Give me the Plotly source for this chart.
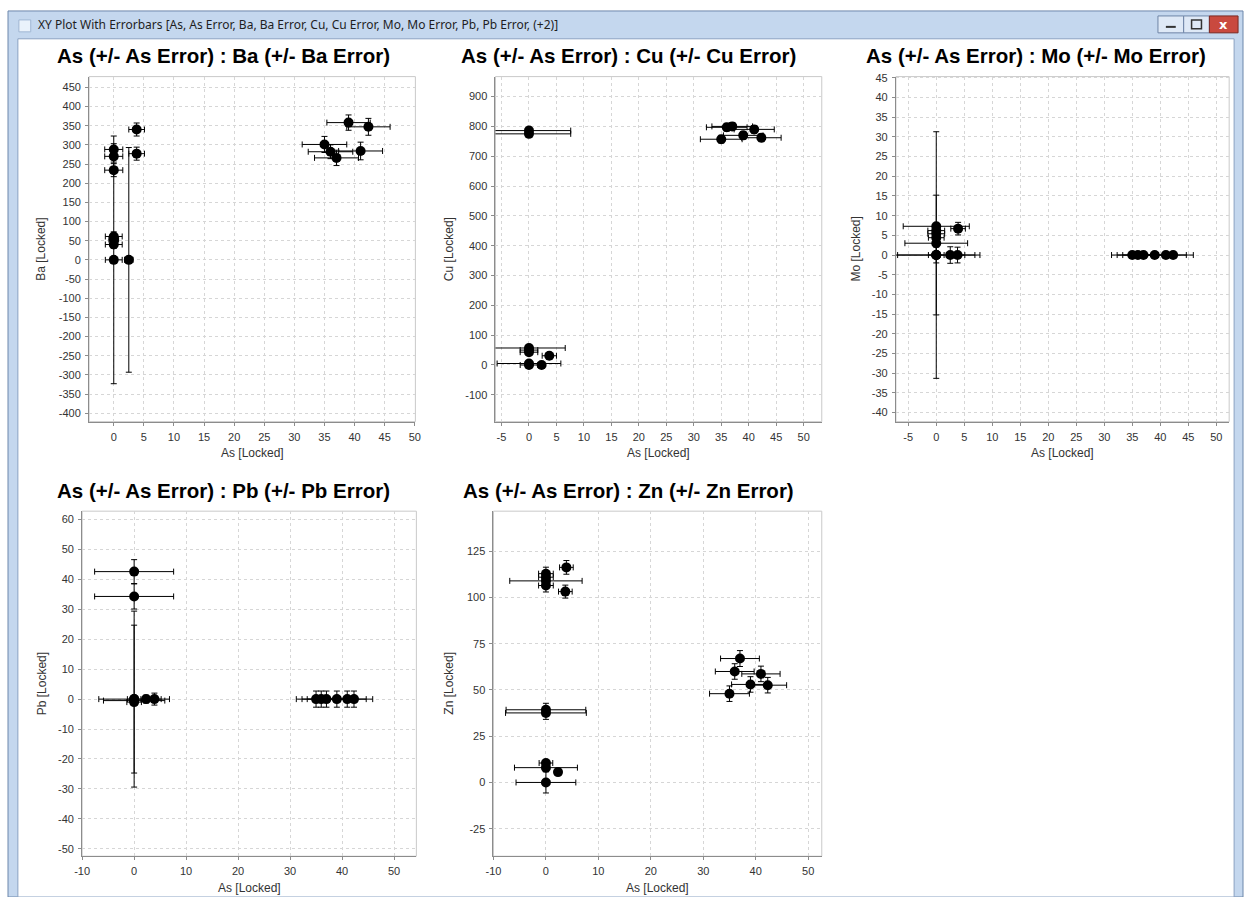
import plotly.graph_objects as go

W, H = 1249, 897

# ---------------- data ----------------
# As : Ba
as_ba = [0, 2.5, 0, 0, 0, 0, 0, 0, 3.8, 3.8, 35.0, 36.0, 37.0, 39.0, 41.0, 42.3]
as_err_ba = [1.4, 0.7, 1.5, 1.5, 1.5, 1.4, 0.8, 1.4, 1.3, 1.3, 3.7, 3.7, 3.65, 3.6, 3.65, 3.6]
ba = [0, 0, 288, 270, 234, 61, 53, 40, 340, 277, 301, 282, 266, 358, 284, 347]
ba_err = [323, 293, 15, 15, 17, 12, 10, 10, 17, 17, 21, 18, 20, 20, 23, 22]

# As : Cu
as_cu = [0, 0, 0, 0, 0, 3.7, 0, 0, 2.3, 35.0, 36.0, 37.0, 39.0, 41.0, 42.3]
as_err_cu = [7.6, 7.6, 6.6, 1.6, 1.6, 1.3, 5.8, 1.6, 0.5, 3.8, 3.7, 3.7, 3.6, 3.65, 3.6]
cu = [786, 775, 57, 50, 43, 31, 5, 0, 0, 757, 797, 800, 770, 790, 762]
cu_err = [8, 8, 6, 5, 5, 6, 5, 5, 3, 13, 13, 13, 13, 13, 13]

# As : Mo
as_mo = [0, 0, 0, 0, 0, 0, 0, 0, 3.9, 2.5, 3.8, 35.0, 36.0, 37.0, 39.0, 41.0, 42.3]
as_err_mo = [5.9, 1.5, 1.5, 1.4, 5.6, 6.9, 1.4, 7.8, 1.3, 0.7, 1.3, 3.7, 3.7, 3.7, 3.6, 3.65, 3.6]
mo = [7.3, 6.2, 5.4, 4.4, 3.0, 0, 0, 0, 6.7, 0, 0, 0, 0, 0, 0, 0, 0]
mo_err = [0.5, 0.5, 0.5, 0.5, 0.5, 31.3, 15.2, 2.0, 1.6, 2.1, 2.0, 0, 0, 0, 0, 0, 0]

# As : Pb
as_pb = [0, 0, 0, 0, 0, 0, 2.3, 3.9, 35.0, 36.0, 37.0, 39.0, 41.0, 42.3]
as_err_pb = [7.6, 7.6, 6.8, 1.3, 5.9, 1.4, 0.6, 1.3, 3.8, 3.7, 3.7, 3.6, 3.65, 3.6]
pb = [42.6, 34.3, 0, 0, -0.5, -1.0, 0, 0, 0, 0, 0, 0, 0, 0]
pb_err = [4.0, 4.2, 29.4, 24.7, 1.0, 1.0, 1.3, 2.0, 2.7, 2.7, 2.7, 2.7, 2.7, 2.7]

# As : Zn
as_zn = [0, 0, 0, 0, 3.9, 3.7, 0, 0, 0, 0, 2.3, 0, 35.0, 36.0, 37.0, 39.0, 41.0, 42.3]
as_err_zn = [1.4, 1.4, 6.9, 1.4, 1.3, 1.3, 7.6, 7.7, 1.3, 6.0, 0.5, 5.7, 3.8, 3.7, 3.7, 3.6, 3.65, 3.6]
zn = [112.9, 111.0, 109.0, 106.5, 116.3, 103.2, 39.3, 37.6, 10.5, 8.0, 5.6, 0, 48.0, 60.0, 67.0, 53.0, 58.7, 52.6]
zn_err = [3.5, 3.5, 3.5, 3.5, 3.7, 3.5, 3.5, 3.5, 1.0, 1.0, 0.8, 5.7, 4.2, 4.2, 4.3, 4.2, 4.2, 4.2]

# tick labels
x_ticks_ba = list(range(0, 51, 5))
y_ticks_ba = list(range(-400, 451, 50))
x_ticks_cu = list(range(-5, 51, 5))
y_ticks_cu = list(range(-100, 901, 100))
x_ticks_mo = list(range(-5, 51, 5))
y_ticks_mo = list(range(-40, 46, 5))
x_ticks_pb = list(range(-10, 51, 10))
y_ticks_pb = list(range(-50, 61, 10))
x_ticks_zn = list(range(-10, 51, 10))
y_ticks_zn = list(range(-25, 126, 25))

window_title = "XY Plot With Errorbars [As, As Error, Ba, Ba Error, Cu, Cu Error, Mo, Mo Error, Pb, Pb Error, (+2)]"

# ---------------- layout helpers ----------------
def PX(x):
    return x / W

def PY(y):
    return 1 - y / H

panels = [
    dict(el="Ba", x=as_ba, xe=as_err_ba, y=ba, ye=ba_err, xr=[-4.1, 50.1], yr=[-422, 478],
         xt=x_ticks_ba, yt=y_ticks_ba, box=(82, 412, 72, 419), tx=218, ylx=34),
    dict(el="Cu", x=as_cu, xe=as_err_cu, y=cu, ye=cu_err, xr=[-6.1, 53.3], yr=[-190, 967],
         xt=x_ticks_cu, yt=y_ticks_cu, box=(493, 823, 72, 419), tx=628, ylx=446),
    dict(el="Mo", x=as_mo, xe=as_err_mo, y=mo, ye=mo_err, xr=[-7.2, 52.3], yr=[-42.3, 45.3],
         xt=x_ticks_mo, yt=y_ticks_mo, box=(898, 1235, 72, 419), tx=1040, ylx=858),
    dict(el="Pb", x=as_pb, xe=as_err_pb, y=pb, ye=pb_err, xr=[-10, 54.3], yr=[-52.5, 62.8],
         xt=x_ticks_pb, yt=y_ticks_pb, box=(75, 413, 509, 856), tx=218, ylx=34),
    dict(el="Zn", x=as_zn, xe=as_err_zn, y=zn, ye=zn_err, xr=[-10, 52.6], yr=[-39.9, 146.7],
         xt=x_ticks_zn, yt=y_ticks_zn, box=(491, 823, 509, 856), tx=628, ylx=446),
]

fig = go.Figure()
shapes = []
annotations = []

# window chrome
shapes.append(dict(type="rect", xref="paper", yref="paper", x0=PX(0), x1=PX(1249), y0=PY(897), y1=PY(6),
                   fillcolor="#c4d7ee", line=dict(color="#6d87ab", width=1), layer="below"))
shapes.append(dict(type="rect", xref="paper", yref="paper", x0=PX(10), x1=PX(1240), y0=PY(897), y1=PY(34),
                   fillcolor="#ffffff", line=dict(color="#8aa2c2", width=1), layer="below"))
# icon
shapes.append(dict(type="rect", xref="paper", yref="paper", x0=PX(11), x1=PX(23), y0=PY(27), y1=PY(15),
                   fillcolor="#eaf2fb", line=dict(color="#9fb6d3", width=1), layer="below"))
# buttons
shapes.append(dict(type="rect", xref="paper", yref="paper", x0=PX(1163), x1=PX(1189), y0=PY(28), y1=PY(11),
                   fillcolor="#dfe9f6", line=dict(color="#6e84a6", width=1), layer="below"))
shapes.append(dict(type="rect", xref="paper", yref="paper", x0=PX(1189), x1=PX(1215), y0=PY(28), y1=PY(11),
                   fillcolor="#dfe9f6", line=dict(color="#6e84a6", width=1), layer="below"))
shapes.append(dict(type="rect", xref="paper", yref="paper", x0=PX(1215), x1=PX(1244), y0=PY(28), y1=PY(11),
                   fillcolor="#c9493f", line=dict(color="#7a2a24", width=1), layer="below"))
shapes.append(dict(type="line", xref="paper", yref="paper", x0=PX(1171), x1=PX(1181), y0=PY(22), y1=PY(22),
                   line=dict(color="#333", width=2)))
shapes.append(dict(type="rect", xref="paper", yref="paper", x0=PX(1197), x1=PX(1207), y0=PY(24), y1=PY(15),
                   line=dict(color="#333", width=1.5)))
annotations.append(dict(xref="paper", yref="paper", x=PX(1229.5), y=PY(19.5), text="<b>x</b>", showarrow=False,
                        font=dict(family="DejaVu Sans", size=13, color="white"), xanchor="center", yanchor="middle"))
annotations.append(dict(xref="paper", yref="paper", x=PX(28), y=PY(20), text=window_title, showarrow=False,
                        font=dict(family="Noto Sans, DejaVu Sans, sans-serif", size=12, color="#1e1e1e"),
                        xanchor="left", yanchor="middle"))

tick_font = dict(family="Liberation Sans, Arial, sans-serif", size=11, color="#333333")

for i, p in enumerate(panels):
    n = "" if i == 0 else str(i + 1)
    xa = "x" + n
    ya = "y" + n
    x0, x1, y0, y1 = p["box"]
    fig.add_trace(go.Scatter(
        x=p["x"], y=p["y"], mode="markers", xaxis=xa, yaxis=ya,
        marker=dict(color="black", size=10, symbol="circle"),
        error_x=dict(type="data", array=p["xe"], symmetric=True, color="black", thickness=1, width=3),
        error_y=dict(type="data", array=p["ye"], symmetric=True, color="black", thickness=1, width=3),
        showlegend=False, hoverinfo="x+y", cliponaxis=True,
    ))
    common = dict(showgrid=True, gridcolor="#d6d6d6", griddash="3px,3px", gridwidth=1, zeroline=False,
                  showline=True, linecolor="#8c8c8c", linewidth=1, ticks="outside", ticklen=3,
                  tickcolor="#8c8c8c", tickfont=tick_font, fixedrange=True, ticklabelstandoff=2)
    fig.update_layout(**{
        ("xaxis" + n): dict(common, domain=[PX(x0), PX(x1)], range=p["xr"], anchor=ya,
                            tickvals=p["xt"], ticktext=[str(v) for v in p["xt"]]),
        ("yaxis" + n): dict(common, domain=[PY(y1), PY(y0)], range=p["yr"], anchor=xa,
                            tickvals=p["yt"], ticktext=[str(v) for v in p["yt"]]),
    })
    # plot-area border (top/right light)
    shapes.append(dict(type="rect", xref=xa + " domain", yref=ya + " domain", x0=0, x1=1, y0=0, y1=1,
                       line=dict(color="#c9c9c9", width=1), layer="below"))
    # titles
    annotations.append(dict(xref="paper", yref="paper", x=PX(p["tx"]), y=PY(y0 - 21),
                            text="<b>As (+/- As Error) : %s (+/- %s Error)</b>" % (p["el"], p["el"]),
                            showarrow=False, xanchor="center", yanchor="middle",
                            font=dict(family="Liberation Sans, Arial, sans-serif", size=20.5, color="black")))
    annotations.append(dict(xref="paper", yref="paper", x=PX((x0 + x1) / 2), y=PY(y1 + 32),
                            text="As [Locked]", showarrow=False, xanchor="center", yanchor="middle",
                            font=dict(family="Liberation Sans, Arial, sans-serif", size=12, color="#333333")))
    annotations.append(dict(xref="paper", yref="paper", x=PX(p["ylx"]), y=PY((y0 + y1) / 2),
                            text="%s [Locked]" % p["el"], showarrow=False, textangle=-90,
                            xanchor="center", yanchor="middle",
                            font=dict(family="Liberation Sans, Arial, sans-serif", size=12, color="#333333")))

fig.update_layout(
    width=W, height=H, margin=dict(l=0, r=0, t=0, b=0),
    paper_bgcolor="white", plot_bgcolor="white",
    shapes=shapes, annotations=annotations, showlegend=False,
)

fig.write_html("out.html", config={"displayModeBar": False},
               post_script="document.body.style.margin='0';document.body.style.overflow='hidden';")
